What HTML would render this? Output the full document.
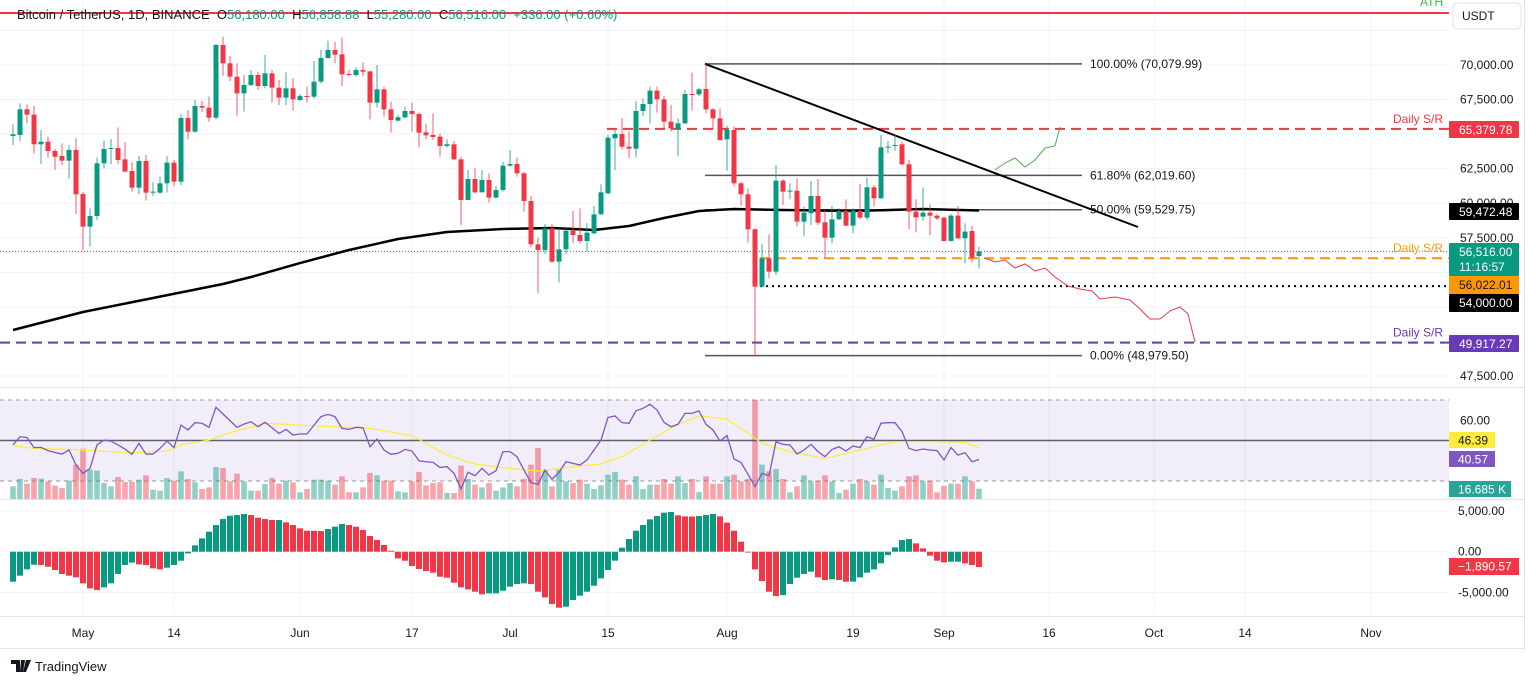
<!DOCTYPE html>
<html><head><meta charset="utf-8">
<style>
html,body{margin:0;padding:0;background:#fff;width:1536px;height:685px;overflow:hidden;font-family:"Liberation Sans",sans-serif;}
svg{display:block}
text{font-family:"Liberation Sans",sans-serif;}
</style></head>
<body>
<svg id="chart" width="1536" height="685" viewBox="0 0 1536 685" xmlns="http://www.w3.org/2000/svg"></svg>
<script>
// ---- data (daily candles from Apr 21 2024 to Sep 6 2024) ----
const opens=[64865,64937,66794,66408,64262,64455,63780,63419,63081,63852,
60670,58307,59079,62888,63925,63997,63178,62333,61128,63057,
60790,60766,61441,62936,61562,66167,65178,67035,66914,66191,
71447,70121,69157,67951,68554,69277,68482,69398,68361,67638,
68313,67469,67758,67710,68795,70507,71085,70772,69350,69277,
69639,69542,67276,68240,66794,65974,66215,66673,66456,65130,
64937,64817,64142,64262,63178,60236,61755,60790,61682,60405,
60959,62719,62839,62164,60163,57029,56619,58186,55775,56667,
58017,57704,57270,57824,59199,60718,64696,65009,64093,63948,
66673,67179,68144,67517,65901,65371,65781,67902,67878,68264,
66793,66142,64624,65299,61441,60645,58114,53968,56017,55053,
61635,60887,60911,58669,59272,60526,58621,57512,58838,59441,
58380,59441,58958,61152,60357,64070,64142,64263,62816,59392,
59031,59320,59103,58958,57271,59103,57464,57994,56180];
const highs=[65709,67228,67156,67035,65299,64817,63925,64335,64214,64696,
60839,59633,63322,64527,64648,65492,64407,62960,63419,63491,
61514,61924,63419,63129,66432,66746,67469,67397,67710,71519,
72050,70651,70121,69277,69639,69518,70724,69639,68915,69470,
69036,67903,68433,70290,71085,71760,71664,72002,69639,69832,
70193,69542,70000,68433,67348,66384,66987,67276,66577,65733,
66504,65058,64624,64503,63370,62406,62526,62406,62165,61249,
63009,63852,63297,62285,60525,57511,58500,58500,58186,58186,
59440,59633,58548,59802,61369,64937,65299,66142,65178,67396,
67589,68433,68433,67758,67107,66142,68192,69446,68361,70072,
66865,66865,65588,65540,61562,61079,58186,57030,57753,62768,
61731,61442,61803,59754,61611,61755,59513,59802,59634,60285,
59634,61394,61852,61321,64938,64504,64938,64456,63129,60285,
61152,59923,59200,59031,59224,59802,58549,58356,56858];
const lows=[64214,64503,65781,63611,62840,63298,62406,62767,61779,59223,
56571,56860,58789,62526,62840,62840,62285,60839,60646,60188,
60525,60670,60766,61200,61321,64624,65106,66601,65902,66071,
69229,68843,66336,66625,68482,68192,68313,67276,67107,67107,
66697,67397,67276,67589,68674,70434,70121,68482,69205,69157,
69205,66071,66938,66263,65106,65902,66143,65178,64045,64624,
64576,63370,64045,63129,58428,60236,60718,60790,60067,60356,
60839,62646,61923,59392,56812,53485,56330,55703,54280,56330,
57101,57101,56498,57776,59151,60646,62405,63900,63249,63322,
66311,65781,66552,65371,65178,63418,65733,66697,67758,66504,
65347,64527,62357,61200,59826,57149,48952,53968,54570,54812,
59875,60285,58307,57632,58428,58428,56065,57102,58790,58356,
57825,58862,58790,59754,60309,63612,63805,62768,58115,57898,
58742,57705,58790,57223,57223,57416,55655,55703,55280];
const closes=[64986,66794,66408,64262,64455,63780,63370,63081,63852,60646,
58307,59079,62888,63925,63997,63129,62285,61128,63057,60766,
60839,61441,62936,61562,66167,65178,67035,66914,66191,71447,
70121,69157,67951,68554,69277,68482,69398,68361,67638,68313,
67517,67758,67710,68795,70507,71085,70748,69325,69301,69639,
69518,67276,68240,66794,66022,66215,66673,66456,65106,64913,
64793,64142,64262,63178,60236,61755,60790,61682,60405,60959,
62719,62839,62164,60163,57029,56619,58186,55775,56667,58017,
57704,57270,57873,59199,60790,64744,65009,64093,63948,66673,
67179,68144,67517,65901,65419,65781,67902,67854,68240,66793,
66142,64575,65299,61441,60645,58114,53967,56017,55053,61635,
60839,60911,58669,59320,60526,58597,57512,58838,59441,58380,
59465,58958,61152,60357,64046,64094,64215,62816,59392,58983,
59320,59103,58910,57271,59103,57464,57946,56065,56516];
const volumesK=[20.5,32.3,24.8,33.9,32.8,28.5,21.5,17.8,29.6,55.5,
81.3,47.4,45.8,25.8,20.5,35.5,27.5,27.5,31.2,38.2,
15.1,13.5,33.9,29.6,44.7,32.3,26.9,16.2,18.8,51.7,
50.1,28.5,40.9,28.5,13.5,13.5,24.2,33.9,24.8,29.6,
26.9,10.8,16.2,31.2,31.2,29.6,23.2,36.6,10.8,10.8,
18.8,42.0,38.2,29.6,29.6,12.4,10.8,28.5,43.6,22.1,
25.8,26.9,9.7,9.7,53.9,32.3,23.2,18.8,25.8,13.5,
18.8,25.8,20.5,32.3,55.5,82.4,47.4,20.5,47.4,28.5,
25.8,31.2,24.8,16.2,22.1,39.3,43.6,31.2,23.2,36.6,
16.2,23.2,23.2,32.3,24.8,36.6,25.8,32.3,11.3,36.6,
24.8,24.8,36.6,39.3,28.5,32.3,160.5,55.5,44.7,48.5,
32.3,10.8,20.5,38.2,28.5,29.6,38.2,28.5,9.7,15.1,
24.8,32.3,28.5,23.2,39.3,17.8,13.5,20.5,36.6,38.2,
28.5,29.6,10.8,21.5,24.8,24.8,36.6,28.5,16.685];
const rsiValues=[47.8,51.9,51.4,46.5,46.6,45.0,44.1,43.3,45.3,37.9,
33.8,36.2,47.8,50.2,49.7,47.8,45.8,43.2,48.6,43.3,
43.3,46.1,49.7,46.5,57.6,55.2,58.8,58.5,56.5,66.4,
63.1,59.8,56.5,58.1,59.3,56.8,59.0,56.3,53.5,55.5,
52.7,53.2,53.2,57.6,61.8,62.9,61.8,56.0,55.5,56.5,
56.3,46.9,50.7,45.3,43.2,43.7,45.6,44.8,40.0,39.5,
39.2,36.7,37.1,33.8,26.1,34.3,32.6,36.2,33.0,35.1,
44.5,44.5,42.0,35.4,29.2,28.3,35.4,30.8,34.3,39.5,
38.7,37.9,40.4,45.3,50.2,61.4,62.1,58.8,58.5,64.7,
65.9,67.9,65.1,59.0,56.8,58.0,63.4,63.4,64.6,58.0,
55.2,49.7,52.4,40.9,39.2,33.3,27.2,33.8,32.6,49.4,
48.1,47.8,43.3,45.3,48.1,44.5,42.0,45.6,46.9,44.8,
47.3,46.5,51.9,50.6,58.5,58.8,58.8,54.4,46.1,45.0,
45.8,45.3,45.0,40.4,46.5,42.8,44.0,39.5,40.57];
const rsiMaIdx=[0,3,8,12,17,22,24,28,31,36,41,46,51,57,62,66,70,75,80,84,87,91,95,98,102,104,107,111,116,120,123,126,132,136,138];
const rsiMaVal=[47.4,46.1,45.6,44.8,44.0,44.8,47.8,50.2,53.9,58.5,57.6,56.8,56.0,52.4,42.8,38.4,36.6,34.9,37.1,38.4,42.0,50.2,58.0,62.1,60.6,56.0,48.6,44.5,41.2,44.5,46.9,49.4,49.4,49.1,46.39];
const macdHist=[-3686,-2948,-2170,-1600,-1640,-1843,-2252,-2744,-2948,-3153,
-3890,-4505,-4709,-4382,-3890,-2744,-1638,-1351,-1556,-1638,
-2048,-2170,-1966,-1638,-1106,-205,778,1638,2457,3276,
4013,4423,4505,4627,4505,4177,4013,3890,3890,3604,
3276,2867,2580,2560,2540,2785,3071,3399,3276,3071,
2662,1925,1433,819,123,-819,-1106,-1761,-2129,-2375,
-2580,-3071,-3194,-3808,-4382,-4627,-4914,-5242,-5119,-5119,
-4791,-4300,-3972,-3890,-3972,-4914,-5610,-6429,-6880,-6757,
-5938,-5405,-4914,-4177,-3276,-2252,-1106,491,1556,2580,
3276,3972,4382,4791,4873,4464,4341,4320,4380,4505,
4627,4341,3563,2580,1229,-41,-2170,-3604,-4914,-5446,
-5324,-3972,-3194,-2744,-2457,-3153,-3481,-3399,-3481,-3686,
-3686,-3153,-2580,-2170,-1433,-410,532,1433,1556,1024,
410,-491,-1106,-1310,-1229,-1229,-1433,-1638,-1890.57];
const ma200Idx=[0,10,20,30,34,41,48,55,62,70,77,83,88,93,98,103,110,120,130,138];
const ma200Val=[50830,52131,53145,54157,54663,55676,56617,57413,57919,58136,58208,58064,58353,58932,59438,59583,59510,59438,59583,59472];
const priceTicks=[70000,67500,62500,60000,57500,47500];
const macdTicks=[5000,0,-5000];
const dateLabels=["May","14","Jun","17","Jul","15","Aug","19","Sep","16","Oct","14","Nov"];
const dateOffsets=[10,23,41,57,71,85,102,120,133,148,163,176,194]; // days after Apr 21
const fibLevels=[100,61.8,50,0];
const fibPrices=[70079.99,62019.60,59529.75,48979.50];

// ---- scales ----
const X0=13, DX=7;
function xS(i){return X0+DX*i;}
function yP(p){return 65+(70000-p)*0.013824;}
function yR(v){return 440.5+(50-v)*2.025;}
function yV(v){return 499-v*0.619;}
function yM(v){return 551.7-v*0.00814;}
function fmt(v){return v.toLocaleString('en-US',{minimumFractionDigits:2,maximumFractionDigits:2});}

const NS="http://www.w3.org/2000/svg";
const svg=document.getElementById('chart');
function mk(tag,attrs,parent){const e=document.createElementNS(NS,tag);for(const k in attrs)e.setAttribute(k,attrs[k]);(parent||svg).appendChild(e);return e;}
function txt(s,attrs,parent){const e=mk('text',attrs,parent);e.textContent=s;return e;}
const UP='#089981', DN='#f23645', CW=1449;

// grid
const grid=mk('g',{});


for(let k=0;k<dateOffsets.length;k++){const x=xS(dateOffsets[k]);mk('line',{x1:x,x2:x,y1:0,y2:615,stroke:'#f0f3fa','stroke-width':1},grid);}
for(let p=47500;p<=72500;p+=2500){const y=yP(p);mk('line',{x1:0,x2:CW,y1:y,y2:y,stroke:'#f0f3fa'},grid);}
[5000,0,-5000].forEach(v=>mk('line',{x1:0,x2:CW,y1:yM(v),y2:yM(v),stroke:'#f0f3fa'},grid));
// pane separators & axis border
mk('line',{x1:0,x2:1525,y1:387.5,y2:387.5,stroke:'#e0e3eb'});
mk('line',{x1:0,x2:1525,y1:499.5,y2:499.5,stroke:'#e0e3eb'});
mk('line',{x1:0,x2:1525,y1:616.5,y2:616.5,stroke:'#e0e3eb'});
mk('line',{x1:1524.5,x2:1524.5,y1:0,y2:650,stroke:'#e0e3eb'});
mk('line',{x1:0,x2:1525,y1:648.5,y2:648.5,stroke:'#e0e3eb'});

// ATH line
const ath=mk('line',{x1:0,x2:CW,y1:13,y2:13,stroke:'#f23645','stroke-width':2});


const athT=txt('ATH',{x:1420,y:6,fill:'#4caf50','font-size':12});



// header
const hdr=txt('',{x:17,y:19,'font-size':13,fill:'#131722'});


[['Bitcoin / TetherUS, 1D, BINANCE  ','#131722'],['O','#131722'],['56,180.00  ',UP],['H','#131722'],['56,858.88  ',UP],['L','#131722'],['55,280.00  ',UP],['C','#131722'],['56,516.00  ',UP],['+336.00 (+0.60%)',UP]].forEach(s=>{const t=mk('tspan',{fill:s[1]},hdr);t.textContent=s[0];t.setAttribute('xml:space','preserve');});
hdr.setAttribute('style','white-space:pre');

// purple S/R
function hline(y,x1,color,dash,name,w){const l=mk('line',{x1:x1,x2:CW,y1:y,y2:y,stroke:color,'stroke-width':w||2,'stroke-dasharray':dash});return l;}
hline(yP(49917.27),0,'#673ab7','10 6','support-line-49917');
hline(yP(65379.78),607,'#f23645','10 6','resistance-line-65379');
hline(yP(56022.01),760,'#ff9800','10 6','support-line-56022');
hline(yP(54000),760,'#000','2 4','support-line-54000');
hline(yP(56516),0,'#089981','1 2','last-price-line',1);
const srLabels=[['#f23645',65379.78],['#ff9800',56022.01],['#673ab7',49917.27]];
srLabels.forEach(s=>{const t=txt('Daily S/R',{x:1443,y:yP(s[1])-6,'text-anchor':'end',fill:s[0],'font-size':12});});

// fib
for(let k=0;k<fibLevels.length;k++){
  const y=yP(fibPrices[k]);
  const l=mk('line',{x1:705,x2:1082,y1:y,y2:y,stroke:'#555','stroke-width':1.5});
  
  
  const lab=(fibLevels[k]===61.8?'61.80%':fibLevels[k].toFixed(2)+'%')+' ('+fmt(fibPrices[k])+')';
  const t=txt(lab,{x:1090,y:y+4,fill:'#131722','font-size':12});
  
  
}
// trend line
const tl=mk('line',{x1:705,y1:yP(70079.99),x2:1138,y2:227,stroke:'#000','stroke-width':2});



// MA200
let d='';
for(let k=0;k<ma200Idx.length;k++){d+=(k?'L':'M')+xS(ma200Idx[k])+' '+yP(ma200Val[k]);}
const ma=mk('path',{d:d,fill:'none',stroke:'#000','stroke-width':2.5,'stroke-linejoin':'round'});



// candles
const cg=mk('g',{});


for(let i=0;i<closes.length;i++){
  const x=xS(i), up=closes[i]>=opens[i], c=up?UP:DN;
  const g=mk('g',{},cg);
  
  
  mk('line',{x1:x,x2:x,y1:yP(highs[i]),y2:yP(lows[i]),stroke:c,'stroke-width':1,opacity:0.8},g);
  const y1=yP(Math.max(opens[i],closes[i])), y2=yP(Math.min(opens[i],closes[i]));
  mk('rect',{x:x-2.5,y:y1,width:5,height:Math.max(1,y2-y1),fill:c},g);
}

// projections
const gp=mk('path',{d:'M995 170 L1005 163 L1015 158 L1025 167 L1035 160 L1045 148 L1055 146 L1060 127',fill:'none',stroke:'#4caf50','stroke-width':1});


const rp=mk('path',{d:'M985 258 L995 262 L1005 260 L1015 268 L1025 264 L1035 271 L1045 268 L1055 277 L1068 286 L1080 289 L1092 291 L1100 299 L1115 297 L1130 300 L1140 309 L1150 319 L1160 319 L1170 311 L1180 307 L1188 314 L1195 342',fill:'none',stroke:'#f23645','stroke-width':1});



// price axis
const pa=mk('g',{});


priceTicks.forEach(p=>txt(fmt(p),{x:1460,y:yP(p)+4,fill:'#131722','font-size':12},pa));
const ub=mk('rect',{x:1453,y:3,width:68,height:26,rx:5,fill:'#fff',stroke:'#e0e3eb'});


txt('USDT',{x:1462,y:20,fill:'#131722','font-size':12});
function tag(y,h,w,bg,lines,fg,name){
  const g=mk('g',{});
  
  
  mk('rect',{x:1449,y:y,width:w,height:h,fill:bg,rx:1},g);
  lines.forEach((s,k)=>txt(s,{x:1459,y:y+13+k*15,fill:fg||'#fff','font-size':12},g));
}
tag(121,17,70,'#f23645',['65,379.78'],null,'price-tag-65379');
tag(203,17,70,'#000',['59,472.48'],null,'price-tag-sma200');
tag(243,33,70,'#089981',['56,516.00','11:16:57'],null,'price-tag-last');
tag(276,18,70,'#ff9800',['56,022.01'],'#131722','price-tag-56022');
tag(294,18,70,'#000',['54,000.00'],null,'price-tag-54000');
tag(335,17,70,'#673ab7',['49,917.27'],null,'price-tag-49917');

// RSI pane
const rb=mk('rect',{x:0,y:yR(70),width:CW,height:yR(30)-yR(70),fill:'rgba(126,87,194,0.1)'});


mk('line',{x1:0,x2:CW,y1:yR(70),y2:yR(70),stroke:'#9598a1','stroke-dasharray':'4 4'});
mk('line',{x1:0,x2:CW,y1:yR(30),y2:yR(30),stroke:'#9598a1','stroke-dasharray':'4 4'});
// volume
const vg=mk('g',{});


for(let i=0;i<volumesK.length;i++){
  const up=closes[i]>=opens[i];
  const b=mk('rect',{x:xS(i)-2.8,y:yV(volumesK[i]),width:5.6,height:499-yV(volumesK[i]),fill:up?'rgba(8,153,129,0.45)':'rgba(242,54,69,0.45)'},vg);
  
  
}
mk('line',{x1:0,x2:CW,y1:yR(50),y2:yR(50),stroke:'#5d606b','stroke-width':1.5});
d='';for(let k=0;k<rsiMaIdx.length;k++){d+=(k?'L':'M')+xS(rsiMaIdx[k])+' '+yR(rsiMaVal[k]);}
const rm=mk('path',{d:d,fill:'none',stroke:'#ffeb3b','stroke-width':1.2});


d='';for(let i=0;i<rsiValues.length;i++){d+=(i?'L':'M')+xS(i)+' '+yR(rsiValues[i]);}
const rl=mk('path',{d:d,fill:'none',stroke:'#7e57c2','stroke-width':1.3});


txt('60.00',{x:1460,y:yR(60)+4,fill:'#131722','font-size':12});
function tag2(y,h,w,bg,s,fg,name){const g=mk('g',{});mk('rect',{x:1449,y:y,width:w,height:h,fill:bg},g);txt(s,{x:1458,y:y+12.5,fill:fg,'font-size':12},g);}
tag2(432,16,46,'#ffeb3b','46.39','#131722','rsi-ma-tag');
tag2(451,16,46,'#7e57c2','40.57','#fff','rsi-tag');
tag2(481,16,62,'#26a69a','16.685 K','#fff','volume-tag');

// MACD pane
const mg=mk('g',{});


for(let i=0;i<macdHist.length;i++){
  const v=macdHist[i], prev=i?macdHist[i-1]:v;
  const c=v>=prev?'#089981':'#f23645';
  const y0=yM(0), y1=yM(v);
  const b=mk('rect',{x:xS(i)-3,y:Math.min(y0,y1),width:6,height:Math.max(0.8,Math.abs(y1-y0)),fill:c},mg);
  
  
}
macdTicks.forEach(v=>txt(fmt(v),{x:1458,y:yM(v)+4,fill:'#131722','font-size':12}));
tag2(558,17,70,'#f23645','\u22121,890.57','#fff','macd-tag');

// time axis
const ta=mk('g',{});


for(let k=0;k<dateLabels.length;k++){txt(dateLabels[k],{x:xS(dateOffsets[k]),y:637,'text-anchor':'middle',fill:'#131722','font-size':12},ta);}

// logo
const lg=mk('g',{});


mk('path',{d:'M11 660 h9 v12 h-4 v-8 h-5z M21 660 h4 l-2 12 h-3z',fill:'#131722'},lg);
mk('circle',{cx:23,cy:662,r:1.8,fill:'#131722'},lg);
mk('path',{d:'M26 660 h5 l-5 12 h-3z',fill:'#131722'},lg);
txt('TradingView',{x:35,y:671,fill:'#131722','font-size':13},lg);
</script>
</body></html>
